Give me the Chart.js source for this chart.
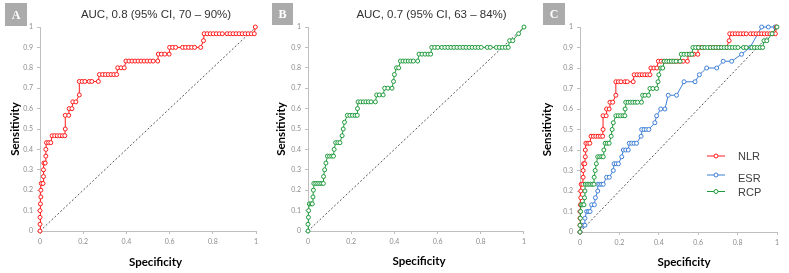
<!DOCTYPE html>
<html lang="en">
<head>
    <meta charset="UTF-8">
    <title>ROC curves NLR / ESR / RCP</title>
    <script src="https://cdn.jsdelivr.net/npm/chart.js"></script>
    <style>
        body { margin: 0; background: #fff; }
        canvas { position: absolute; top: 0; }
        #chartA { left: 0; }
        #chartB { left: 265px; }
        #chartC { left: 530px; }
    </style>
</head>
<body>
    <canvas id="chartA" width="263" height="273"></canvas>
    <canvas id="chartB" width="265" height="273"></canvas>
    <canvas id="chartC" width="259" height="273"></canvas>
    <script>
        // 1 - specificity (x) and sensitivity (y)
        const nlrSpec = [0, 0, 0, 0, 0.002, 0.004, 0.004, 0.006, 0.014, 0.016, 0.016, 0.018, 0.024, 0.027, 0.027, 0.03, 0.04, 0.05,
            0.056, 0.068, 0.08, 0.092, 0.104, 0.115, 0.117, 0.117, 0.133, 0.135, 0.148, 0.152, 0.166, 0.182, 0.182,
            0.195, 0.208, 0.228, 0.24, 0.27, 0.275, 0.29, 0.303, 0.316, 0.329, 0.342, 0.355, 0.36, 0.375, 0.39,
            0.398, 0.412, 0.426, 0.44, 0.454, 0.468, 0.482, 0.496, 0.51, 0.524, 0.545, 0.548, 0.562, 0.578, 0.598,
            0.6, 0.614, 0.628, 0.66, 0.674, 0.688, 0.702, 0.716, 0.744, 0.757, 0.76, 0.774, 0.788, 0.802, 0.816,
            0.83, 0.844, 0.866, 0.88, 0.894, 0.908, 0.922, 0.936, 0.95, 0.964, 0.978, 0.992, 0.997];
        const nlrSens = [0, 0.033, 0.067, 0.1, 0.133, 0.167, 0.2, 0.233, 0.233, 0.267, 0.3, 0.333, 0.333, 0.367, 0.4, 0.433, 0.433, 0.433,
            0.467, 0.467, 0.467, 0.467, 0.467, 0.467, 0.5, 0.567, 0.567, 0.6, 0.6, 0.633, 0.633, 0.667, 0.733,
            0.733, 0.733, 0.733, 0.733, 0.733, 0.767, 0.767, 0.767, 0.767, 0.767, 0.767, 0.767, 0.8, 0.8, 0.8,
            0.833, 0.833, 0.833, 0.833, 0.833, 0.833, 0.833, 0.833, 0.833, 0.833, 0.833, 0.867, 0.867, 0.867, 0.867,
            0.9, 0.9, 0.9, 0.9, 0.9, 0.9, 0.9, 0.9, 0.9, 0.933, 0.967, 0.967, 0.967, 0.967, 0.967,
            0.967, 0.967, 0.967, 0.967, 0.967, 0.967, 0.967, 0.967, 0.967, 0.967, 0.967, 0.967, 1];

        const esrSpec = [0, 0.008, 0.017, 0.025, 0.025, 0.034, 0.043, 0.051, 0.059, 0.073, 0.078, 0.09, 0.09, 0.1, 0.109, 0.118,
            0.135, 0.149, 0.169, 0.173, 0.184, 0.195, 0.212, 0.22, 0.232, 0.245, 0.25, 0.262, 0.274, 0.287, 0.31,
            0.313, 0.325, 0.337, 0.349, 0.38, 0.389, 0.41, 0.431, 0.448, 0.49, 0.528, 0.584, 0.606, 0.643, 0.694,
            0.727, 0.77, 0.82, 0.863, 0.922, 0.956, 0.99];
        const esrSens = [0, 0.033, 0.033, 0.033, 0.067, 0.1, 0.1, 0.1, 0.133, 0.133, 0.167, 0.2, 0.233, 0.233, 0.233, 0.233,
            0.267, 0.267, 0.3, 0.333, 0.333, 0.333, 0.367, 0.4, 0.4, 0.4, 0.433, 0.433, 0.433, 0.433, 0.467,
            0.5, 0.5, 0.5, 0.5, 0.533, 0.567, 0.6, 0.6, 0.667, 0.667, 0.733, 0.733, 0.767, 0.8, 0.8,
            0.833, 0.833, 0.867, 0.9, 1, 1, 1];

        const rcpSpec = [0, 0, 0.002, 0.003, 0.006, 0.014, 0.02, 0.023, 0.025, 0.027, 0.036, 0.045, 0.054, 0.063, 0.071,
            0.072, 0.077, 0.083, 0.09, 0.1, 0.11, 0.118, 0.121, 0.128, 0.138, 0.148, 0.158, 0.163, 0.169,
            0.182, 0.194, 0.206, 0.218, 0.228, 0.229, 0.232, 0.244, 0.256, 0.268, 0.28, 0.292, 0.312,
            0.318, 0.33, 0.348, 0.355, 0.37, 0.389, 0.396, 0.4, 0.41, 0.42, 0.428, 0.44, 0.452, 0.464, 0.476,
            0.488, 0.508, 0.514, 0.528, 0.542, 0.556, 0.568, 0.573, 0.587, 0.601, 0.62, 0.634, 0.648, 0.662,
            0.676, 0.69, 0.704, 0.718, 0.732, 0.746, 0.76, 0.774, 0.788, 0.802, 0.83, 0.844, 0.872, 0.886,
            0.9, 0.914, 0.927, 0.934, 0.948, 0.975, 1];
        const rcpSens = [0, 0.033, 0.067, 0.1, 0.133, 0.133, 0.133, 0.167, 0.2, 0.233, 0.233, 0.233, 0.233, 0.233, 0.233,
            0.267, 0.3, 0.333, 0.367, 0.367, 0.367, 0.367, 0.4, 0.433, 0.433, 0.433, 0.467, 0.5, 0.533,
            0.567, 0.567, 0.567, 0.567, 0.567, 0.6, 0.633, 0.633, 0.633, 0.633, 0.633, 0.633, 0.633,
            0.667, 0.667, 0.667, 0.7, 0.7, 0.7, 0.733, 0.767, 0.8, 0.8, 0.833, 0.833, 0.833, 0.833, 0.833,
            0.833, 0.833, 0.867, 0.867, 0.867, 0.867, 0.867, 0.9, 0.9, 0.9, 0.9, 0.9, 0.9, 0.9,
            0.9, 0.9, 0.9, 0.9, 0.9, 0.9, 0.9, 0.9, 0.9, 0.9, 0.9, 0.9, 0.9, 0.9,
            0.9, 0.9, 0.9, 0.933, 0.933, 0.967, 1];

        const refSpec = [0, 1];
        const refSens = [0, 1];

        const seriesNames = ['NLR', 'ESR', 'RCP'];
        const seriesColors = ['#ff1a1a', '#3f7fd6', '#1e9a3c'];
        const aucTitles = ['AUC, 0.8 (95% CI, 70 – 90%)', 'AUC, 0.7 (95% CI, 63 – 84%)'];
        const xTickLabels = ['0', '0.2', '0.4', '0.6', '0.8', '1'];
        const yTickLabels = ['0', '0.1', '0.2', '0.3', '0.4', '0.5', '0.6', '0.7', '0.8', '0.9', '1'];

        const toPoints = (xs, ys) => xs.map((x, i) => ({ x: x, y: ys[i] }));

        function rocSet(idx, xs, ys, order) {
            const c = seriesColors[idx];
            return {
                label: seriesNames[idx],
                data: toPoints(xs, ys),
                borderColor: c,
                borderWidth: 1,
                pointRadius: 2,
                pointBorderWidth: 1,
                pointBorderColor: c,
                pointBackgroundColor: '#fff',
                order: order,
                clip: false
            };
        }

        function refLine() {
            return {
                label: 'ref',
                data: toPoints(refSpec, refSens),
                borderColor: '#555',
                borderWidth: 1,
                borderDash: [2, 2],
                pointRadius: 0,
                order: 9
            };
        }

        // heading, panel tag, x caption and legend
        const panelDecor = {
            id: 'panelDecor',
            afterDraw(chart, args, o) {
                const ctx = chart.ctx;
                ctx.save();
                ctx.fillStyle = '#ababab';
                ctx.fillRect(o.tag.x, o.tag.y, o.tag.w, o.tag.h);
                ctx.fillStyle = '#fff';
                ctx.font = 'bold 12px "Liberation Serif"';
                ctx.textAlign = 'center';
                ctx.textBaseline = 'middle';
                ctx.fillText(o.tag.text, o.tag.x + o.tag.w / 2, o.tag.y + o.tag.h / 2 + 1);

                if (o.heading) {
                    ctx.fillStyle = '#333';
                    ctx.font = '11.5px "Liberation Sans"';
                    ctx.fillText(o.heading.text, o.heading.x, o.heading.y);
                }

                ctx.fillStyle = '#000';
                ctx.font = 'bold 11.5px Lato';
                ctx.fillText('Specificity', o.caption.x, o.caption.y);

                if (o.legend) {
                    ctx.font = '11px "Liberation Sans"';
                    ctx.textAlign = 'left';
                    o.legend.rows.forEach((row, i) => {
                        const ds = chart.data.datasets.find(d => d.label === seriesNames[i]);
                        ctx.strokeStyle = ds.borderColor;
                        ctx.lineWidth = 1;
                        ctx.beginPath();
                        ctx.moveTo(o.legend.x, row.line);
                        ctx.lineTo(o.legend.x + 18, row.line);
                        ctx.stroke();
                        ctx.beginPath();
                        ctx.fillStyle = '#fff';
                        ctx.arc(o.legend.x + 9, row.line, 2, 0, Math.PI * 2);
                        ctx.fill();
                        ctx.stroke();
                        ctx.fillStyle = '#404040';
                        ctx.fillText(ds.label, o.legend.x + 31, row.text);
                    });
                }
                ctx.restore();
            }
        };

        function makePanel(id, p) {
            new Chart(document.getElementById(id), {
                type: 'line',
                data: { datasets: p.datasets },
                plugins: [panelDecor],
                options: {
                    responsive: false,
                    animation: false,
                    layout: { padding: { top: 27, right: p.right, left: 0, bottom: 0 } },
                    plugins: {
                        legend: { display: false },
                        tooltip: { enabled: false },
                        panelDecor: p.decor
                    },
                    scales: {
                        x: {
                            type: 'linear', min: 0, max: 1,
                            afterFit: s => { s.height = p.xh; },
                            grid: { drawOnChartArea: false, color: '#bfbfbf', tickLength: 3 },
                            border: { color: '#bfbfbf' },
                            ticks: {
                                stepSize: 0.2, padding: 4, color: '#8c8c8c', maxRotation: 0,
                                font: { family: 'Lato', size: 7 },
                                callback: (v, i) => xTickLabels[i]
                            }
                        },
                        y: {
                            type: 'linear', min: 0, max: 1,
                            afterFit: s => { s.width = p.yw; },
                            grid: { drawOnChartArea: false, color: '#bfbfbf', tickLength: 3 },
                            border: { color: '#bfbfbf' },
                            ticks: {
                                stepSize: 0.1, padding: 4, color: '#8c8c8c',
                                font: { family: 'Lato', size: 7 },
                                callback: (v, i) => yTickLabels[i]
                            },
                            title: {
                                display: true, text: 'Sensitivity', color: '#000',
                                font: { family: 'Lato', size: 11.5, weight: 'bold' },
                                padding: { top: p.yPad, bottom: 0 }
                            }
                        }
                    }
                }
            });
        }

        makePanel('chartA', {
            right: 7, xh: 42, yw: 40, yPad: 8,
            datasets: [rocSet(0, nlrSpec, nlrSens, 1), refLine()],
            decor: {
                tag: { x: 5, y: 3, w: 22, h: 23, text: 'A' },
                heading: { text: aucTitles[0], x: 156, y: 15 },
                caption: { x: 155.5, y: 262.5 }
            }
        });

        makePanel('chartB', {
            right: 6, xh: 42, yw: 43, yPad: 9.5,
            datasets: [rocSet(2, rcpSpec, rcpSens, 1), refLine()],
            decor: {
                tag: { x: 7, y: 3, w: 21, h: 22, text: 'B' },
                heading: { text: aucTitles[1], x: 166.5, y: 15 },
                caption: { x: 154, y: 261.5 }
            }
        });

        makePanel('chartC', {
            right: 12, xh: 41, yw: 50, yPad: 10.5,
            datasets: [rocSet(0, nlrSpec, nlrSens, 2), rocSet(1, esrSpec, esrSens, 3), rocSet(2, rcpSpec, rcpSens, 1), refLine()],
            decor: {
                tag: { x: 13, y: 3, w: 22, h: 22, text: 'C' },
                caption: { x: 154, y: 262.5 },
                legend: {
                    x: 177,
                    rows: [{ line: 156, text: 156.5 }, { line: 175, text: 178.5 }, { line: 191.5, text: 192.5 }]
                }
            }
        });
    </script>
</body>
</html>
